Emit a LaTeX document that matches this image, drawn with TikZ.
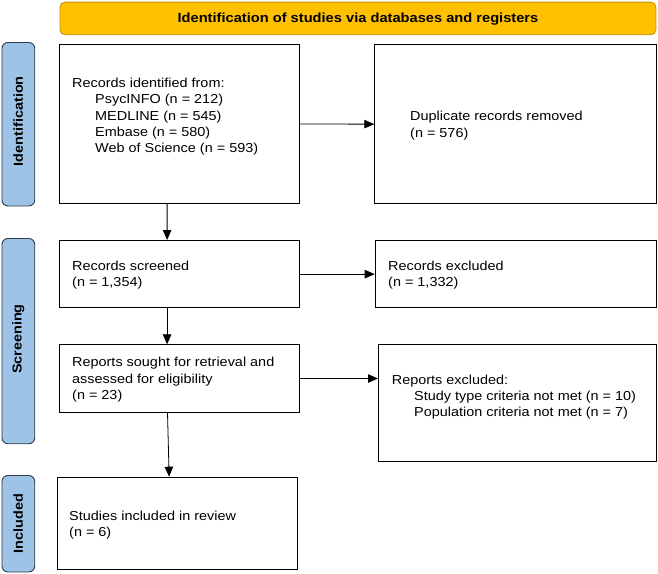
\documentclass[tikz,border=0pt]{standalone}
\usepackage{fontspec}
\setmainfont[FakeStretch=1.11]{Liberation Sans}
\usetikzlibrary{arrows.meta}
\definecolor{bannerfill}{HTML}{FFC000}
\definecolor{bannerdraw}{HTML}{BF9000}
\definecolor{sidefill}{HTML}{9DC3E6}
\definecolor{sidedraw}{HTML}{2F3B4C}
\begin{document}
\begin{tikzpicture}[x=1pt,y=-1pt,
  box/.style={draw=black,line width=1pt,anchor=north west,inner sep=0pt,rectangle},
  banner/.style={draw=bannerdraw,fill=bannerfill,line width=0.8pt,rounded corners=5pt,anchor=north west,inner sep=0pt},
  sidebar/.style={draw=sidedraw,fill=sidefill,line width=0.9pt,rounded corners=6pt,anchor=north west,inner sep=0pt},
  sidelabel/.style={rotate=90,inner sep=0pt,font=\fontsize{13}{16}\selectfont\bfseries},
  txt/.style={inner sep=0pt,align=left,anchor=west,font=\fontsize{13}{16.4}\selectfont},
  arr/.style={line width=0.8pt,-{Triangle[length=10pt,width=8.5pt]}}]
\useasboundingbox (0,0) rectangle (658,573);
% banner
\node[banner,minimum width=595.9pt,minimum height=32.6pt] (banner) at (59.6,1.7) {};
\node[inner sep=0pt,font=\fontsize{13.2}{16}\selectfont\bfseries] (bannertext) at ([yshift=-0.8pt]banner.center) {Identification of studies via databases and registers};
% sidebars
\node[sidebar,minimum width=32.8pt,minimum height=163.5pt] (s1) at (1.5,42) {};
\node[sidebar,minimum width=32.8pt,minimum height=205.3pt] (s2) at (1.5,238) {};
\node[sidebar,minimum width=32.8pt,minimum height=96.5pt] (s3) at (1.5,475) {};
\node[sidelabel] (l1) at ([yshift=3pt]s1.center) {Identification};
\node[sidelabel] (l2) at ([yshift=2pt]s2.center) {Screening};
\node[sidelabel] (l3) at (s3.center) {Included};
% boxes
\node[box,minimum width=240.4pt,minimum height=158.4pt] (b1) at (58.8,44.3) {};
\node[box,minimum width=281.2pt,minimum height=158.7pt] (b2) at (374.3,44.3) {};
\node[box,minimum width=240.2pt,minimum height=67.3pt] (b3) at (58.8,240) {};
\node[box,minimum width=280.8pt,minimum height=67.3pt] (b4) at (374.7,240) {};
\node[box,minimum width=240.2pt,minimum height=67.4pt] (b5) at (58.8,344.3) {};
\node[box,minimum width=278pt,minimum height=117pt] (b6) at (378,344) {};
\node[box,minimum width=240.3pt,minimum height=92.6pt] (b7) at (56.7,476.7) {};
% texts
\node[txt] (t1) at (72,116.7) {Records identified from:\\\hspace*{23pt}PsycINFO (n = 212)\\\hspace*{23pt}MEDLINE (n = 545)\\\hspace*{23pt}Embase (n = 580)\\\hspace*{23pt}Web of Science (n = 593)};
\node[txt] (t2) at (410,125.7) {Duplicate records removed\\(n = 576)};
\node[txt] (t3) at (72,274.9) {Records screened\\(n = 1,354)};
\node[txt] (t4) at (388,274.9) {Records excluded\\(n = 1,332)};
\node[txt] (t5) at (72,379.9) {Reports sought for retrieval and\\assessed for eligibility\\(n = 23)};
\node[txt] (t6) at (391.7,397.2) {Reports excluded:\\\hspace*{22.3pt}Study type criteria not met (n = 10)\\\hspace*{22.3pt}Population criteria not met (n = 7)};
\node[txt] (t7) at (69,525.2) {Studies included in review\\(n = 6)};
% arrows
\draw[arr] (b1.east) -- (b2.west);
\draw[arr] ([xshift=-12.4pt]b1.south) -- ([xshift=-12.3pt]b3.north);
\draw[arr] (b3.east) -- (b4.west);
\draw[arr] ([xshift=-12.3pt]b3.south) -- ([xshift=-12.3pt]b5.north);
\draw[arr] (b5.east) -- (b5.east -| b6.west);
\draw[arr] ([xshift=-11.9pt]b5.south) -- ([xshift=-8.2pt]b7.north);
\end{tikzpicture}
\end{document}
